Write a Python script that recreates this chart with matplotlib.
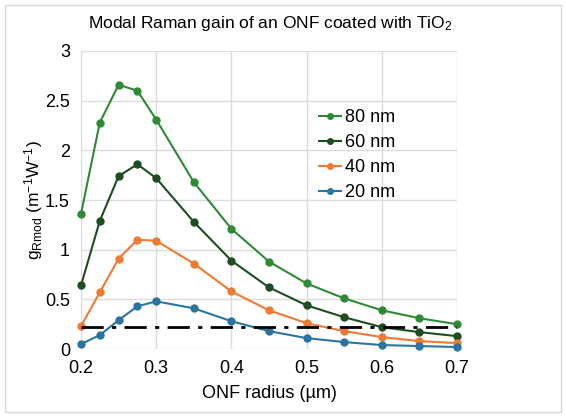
import matplotlib
matplotlib.use("Agg")
import matplotlib.pyplot as plt
from matplotlib.patches import Rectangle

plt.rcParams["font.family"] = ["Liberation Sans", "DejaVu Sans"]
plt.rcParams["mathtext.default"] = "regular"

radius = [0.2, 0.225, 0.25, 0.275, 0.3, 0.35, 0.4, 0.45, 0.5, 0.55, 0.6, 0.65, 0.7]
gain_80 = [1.36, 2.28, 2.66, 2.60, 2.31, 1.68, 1.21, 0.88, 0.66, 0.51, 0.39, 0.31, 0.25]
gain_60 = [0.64, 1.29, 1.74, 1.86, 1.72, 1.28, 0.89, 0.62, 0.44, 0.32, 0.22, 0.17, 0.13]
gain_40 = [0.23, 0.57, 0.91, 1.10, 1.09, 0.86, 0.58, 0.39, 0.26, 0.18, 0.12, 0.08, 0.06]
gain_20 = [0.05, 0.14, 0.29, 0.43, 0.48, 0.41, 0.28, 0.18, 0.11, 0.07, 0.04, 0.03, 0.02]
threshold = 0.22

series = [
    ("80 nm", gain_80, "#2f8a35"),
    ("60 nm", gain_60, "#1d4d20"),
    ("40 nm", gain_40, "#ee7a34"),
    ("20 nm", gain_20, "#2b74a0"),
]

fig = plt.figure(figsize=(5.66, 4.17), dpi=100)
ax = fig.add_axes([0.1431, 0.163, 0.6643, 0.7147])

for label, vals, color in series:
    ax.plot(radius, vals, color=color, marker="o", markersize=5, linewidth=1.5,
            label=label, clip_on=False, zorder=3)

ax.plot([radius[0], radius[-1]], [threshold, threshold], color="black",
        linestyle=(0, (8, 3, 1.5, 3)), linewidth=2, zorder=4)

ax.set_xlim(0.2, 0.7)
ax.set_ylim(0, 3)
ax.set_xticks([0.2, 0.3, 0.4, 0.5, 0.6, 0.7])
ax.set_xticklabels(["0.2", "0.3", "0.4", "0.5", "0.6", "0.7"])
ax.set_yticks([0, 0.5, 1, 1.5, 2, 2.5, 3])
ax.set_yticklabels(["0", "0.5", "1", "1.5", "2", "2.5", "3"])
ax.tick_params(length=0, labelsize=13, pad=8)
ax.grid(True, color="#dcdcdc", linewidth=1)
ax.set_axisbelow(True)
for s in ax.spines.values():
    s.set_visible(False)

ax.set_xlabel("ONF radius (µm)", fontsize=13, labelpad=6)
ax.set_ylabel("g$_{Rmod}$ (m$^{-1}$W$^{-1}$)", fontsize=12.5, labelpad=0)
fig.text(0.477, 0.943, "Modal Raman gain of an ONF coated with TiO$_2$",
         fontsize=12.5, ha="center", va="center")

ax.legend(loc="upper left", bbox_to_anchor=(0.615, 0.83), frameon=False,
          fontsize=13, handlelength=1.2, handletextpad=0.2, labelspacing=0.45,
          borderaxespad=0, markerscale=0.8)

fig.patches.append(Rectangle((0.009, 0.012), 0.982, 0.976, transform=fig.transFigure,
                             fill=False, edgecolor="#d9d9d9", linewidth=1))

fig.savefig("out.png", dpi=100)
